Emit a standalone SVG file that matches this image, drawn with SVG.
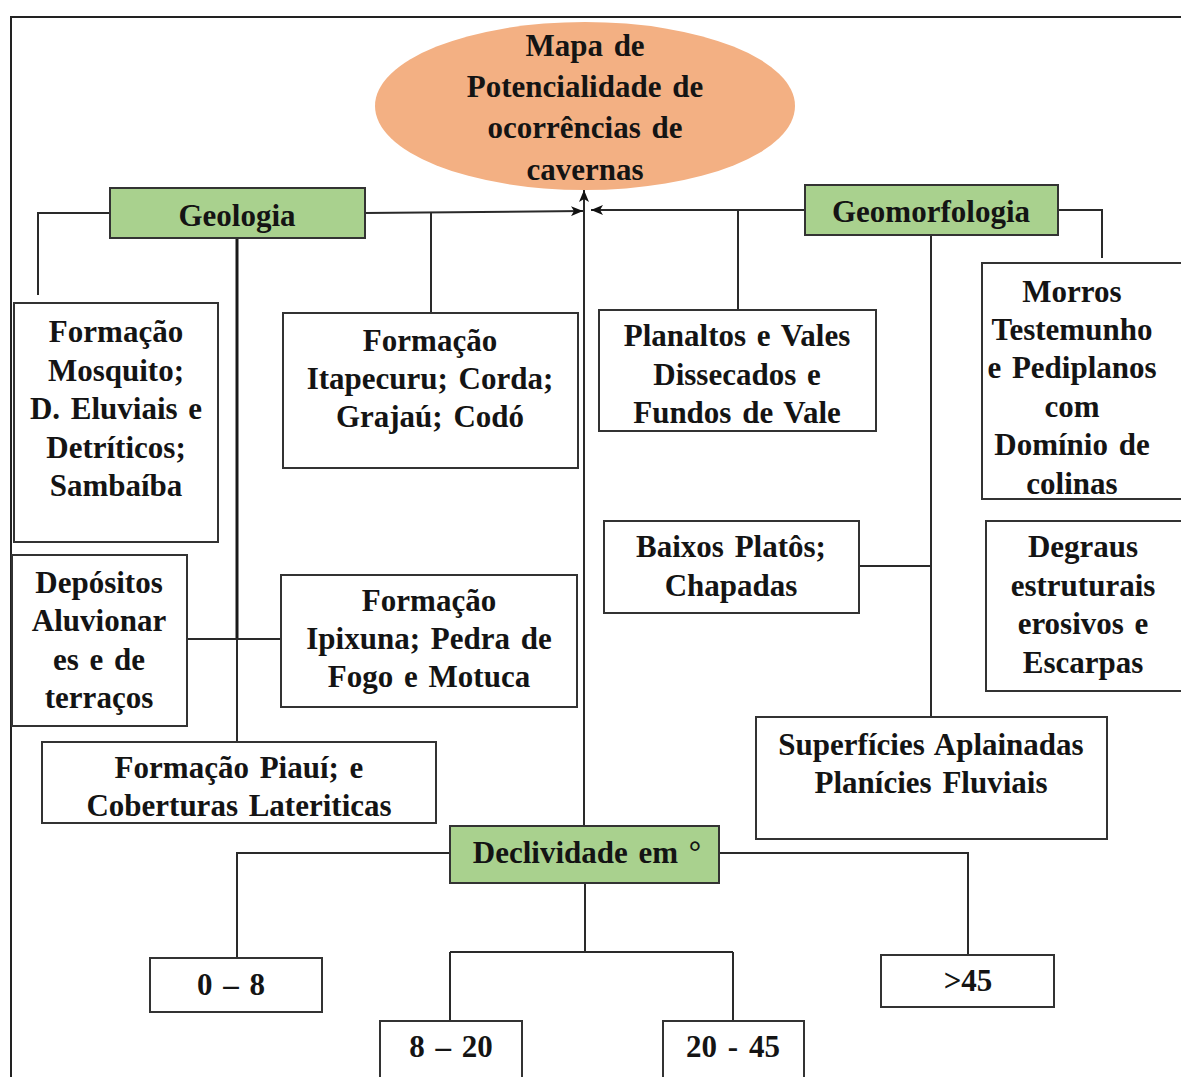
<svg xmlns="http://www.w3.org/2000/svg" width="1181" height="1077" viewBox="0 0 1181 1077">
<style>
.box{fill:#ffffff;stroke:#333333;stroke-width:2}
.green{fill:#A9D18E;stroke:#333333;stroke-width:2}
.t{font-family:"Liberation Serif","Times New Roman",serif;font-weight:bold;font-size:31px;fill:#141414;text-anchor:middle;word-spacing:3px}
.c{fill:none;stroke:#2a2a2a;stroke-width:2}
.thick{fill:none;stroke:#1a1a1a;stroke-width:3}
</style>
<defs>
<marker id="arr" markerUnits="userSpaceOnUse" markerWidth="12" markerHeight="10" refX="12" refY="5" orient="auto">
<path d="M0,0 L12,5 L0,10 L3,5 Z" fill="#111111"/>
</marker>
</defs>
<rect x="0" y="0" width="1181" height="1077" fill="#ffffff"/>
<rect x="11" y="17" width="1180" height="1080" fill="none" stroke="#222222" stroke-width="2"/>

<g id="connectors">
<path class="c" d="M365,213 L583,211" marker-end="url(#arr)"/>
<path class="c" d="M805,210 L591,210" marker-end="url(#arr)"/>
<path class="c" d="M584,826 L584,190" marker-end="url(#arr)"/>
<path class="c" d="M110,213 H38 V295"/>
<path class="thick" d="M237,238 V639"/>
<path class="c" d="M237,639 V742"/>
<path class="c" d="M187,639 H281"/>
<path class="c" d="M431,212 V313"/>
<path class="c" d="M738,210 V310"/>
<path class="c" d="M931,236 V717"/>
<path class="c" d="M859,566 H931"/>
<path class="c" d="M1058,210 H1102 V258"/>
<path class="c" d="M450,853 H237 V958"/>
<path class="c" d="M719,853 H968 V955"/>
<path class="c" d="M585,883 V952 M450,952 H733 M450,952 V1021 M733,952 V1021"/>
</g>

<g id="mapa">
<ellipse cx="585" cy="106" rx="210" ry="84" fill="#F3B083"/>
<text class="t" x="585" y="56">Mapa de</text>
<text class="t" x="585" y="97">Potencialidade de</text>
<text class="t" x="585" y="138">ocorrências de</text>
<text class="t" x="585" y="180">cavernas</text>
</g>

<g id="geologia">
<rect class="green" x="110" y="188" width="255" height="50"/>
<text class="t" x="237" y="226">Geologia</text>
</g>

<g id="geomorfologia">
<rect class="green" x="805" y="185" width="253" height="50"/>
<text class="t" x="931" y="222">Geomorfologia</text>
</g>

<g id="mosquito">
<rect class="box" x="14" y="303" width="204" height="239"/>
<text class="t" x="116" y="342">Formação</text>
<text class="t" x="116" y="381">Mosquito;</text>
<text class="t" x="116" y="419">D. Eluviais e</text>
<text class="t" x="116" y="458">Detríticos;</text>
<text class="t" x="116" y="496">Sambaíba</text>
</g>

<g id="itapecuru">
<rect class="box" x="283" y="313" width="295" height="155"/>
<text class="t" x="430" y="351">Formação</text>
<text class="t" x="430" y="389">Itapecuru; Corda;</text>
<text class="t" x="430" y="427">Grajaú; Codó</text>
</g>

<g id="depositos">
<rect class="box" x="12" y="555" width="175" height="171"/>
<text class="t" x="99" y="593">Depósitos</text>
<text class="t" x="99" y="631">Aluvionar</text>
<text class="t" x="99" y="670">es e de</text>
<text class="t" x="99" y="708">terraços</text>
</g>

<g id="ipixuna">
<rect class="box" x="281" y="575" width="296" height="132"/>
<text class="t" x="429" y="611">Formação</text>
<text class="t" x="429" y="649">Ipixuna; Pedra de</text>
<text class="t" x="429" y="687">Fogo e Motuca</text>
</g>

<g id="piaui">
<rect class="box" x="42" y="742" width="394" height="81"/>
<text class="t" x="239" y="778">Formação Piauí; e</text>
<text class="t" x="239" y="816">Coberturas Lateriticas</text>
</g>

<g id="planaltos">
<rect class="box" x="599" y="310" width="277" height="121"/>
<text class="t" x="737" y="346">Planaltos e Vales</text>
<text class="t" x="737" y="385">Dissecados e</text>
<text class="t" x="737" y="423">Fundos de Vale</text>
</g>

<g id="morros">
<rect class="box" x="982" y="263" width="210" height="236"/>
<text class="t" x="1072" y="302">Morros</text>
<text class="t" x="1072" y="340">Testemunho</text>
<text class="t" x="1072" y="378">e Pediplanos</text>
<text class="t" x="1072" y="417">com</text>
<text class="t" x="1072" y="455">Domínio de</text>
<text class="t" x="1072" y="494">colinas</text>
</g>

<g id="baixos">
<rect class="box" x="604" y="521" width="255" height="92"/>
<text class="t" x="731" y="557">Baixos Platôs;</text>
<text class="t" x="731" y="596">Chapadas</text>
</g>

<g id="degraus">
<rect class="box" x="986" y="521" width="210" height="170"/>
<text class="t" x="1083" y="557">Degraus</text>
<text class="t" x="1083" y="596">estruturais</text>
<text class="t" x="1083" y="634">erosivos e</text>
<text class="t" x="1083" y="673">Escarpas</text>
</g>

<g id="superficies">
<rect class="box" x="756" y="717" width="351" height="122"/>
<text class="t" x="931" y="755">Superfícies Aplainadas</text>
<text class="t" x="931" y="793">Planícies Fluviais</text>
</g>

<g id="declividade">
<rect class="green" x="450" y="826" width="269" height="57"/>
<text class="t" x="587" y="863">Declividade em °</text>
</g>

<g id="d0_8">
<rect class="box" x="150" y="958" width="172" height="54"/>
<text class="t" x="231" y="995">0 – 8</text>
</g>

<g id="d8_20">
<rect class="box" x="380" y="1021" width="142" height="70"/>
<text class="t" x="451" y="1057">8 – 20</text>
</g>

<g id="d20_45">
<rect class="box" x="663" y="1021" width="141" height="70"/>
<text class="t" x="733" y="1057">20 - 45</text>
</g>

<g id="d45">
<rect class="box" x="881" y="955" width="173" height="52"/>
<text class="t" x="968" y="991">&gt;45</text>
</g>
</svg>
